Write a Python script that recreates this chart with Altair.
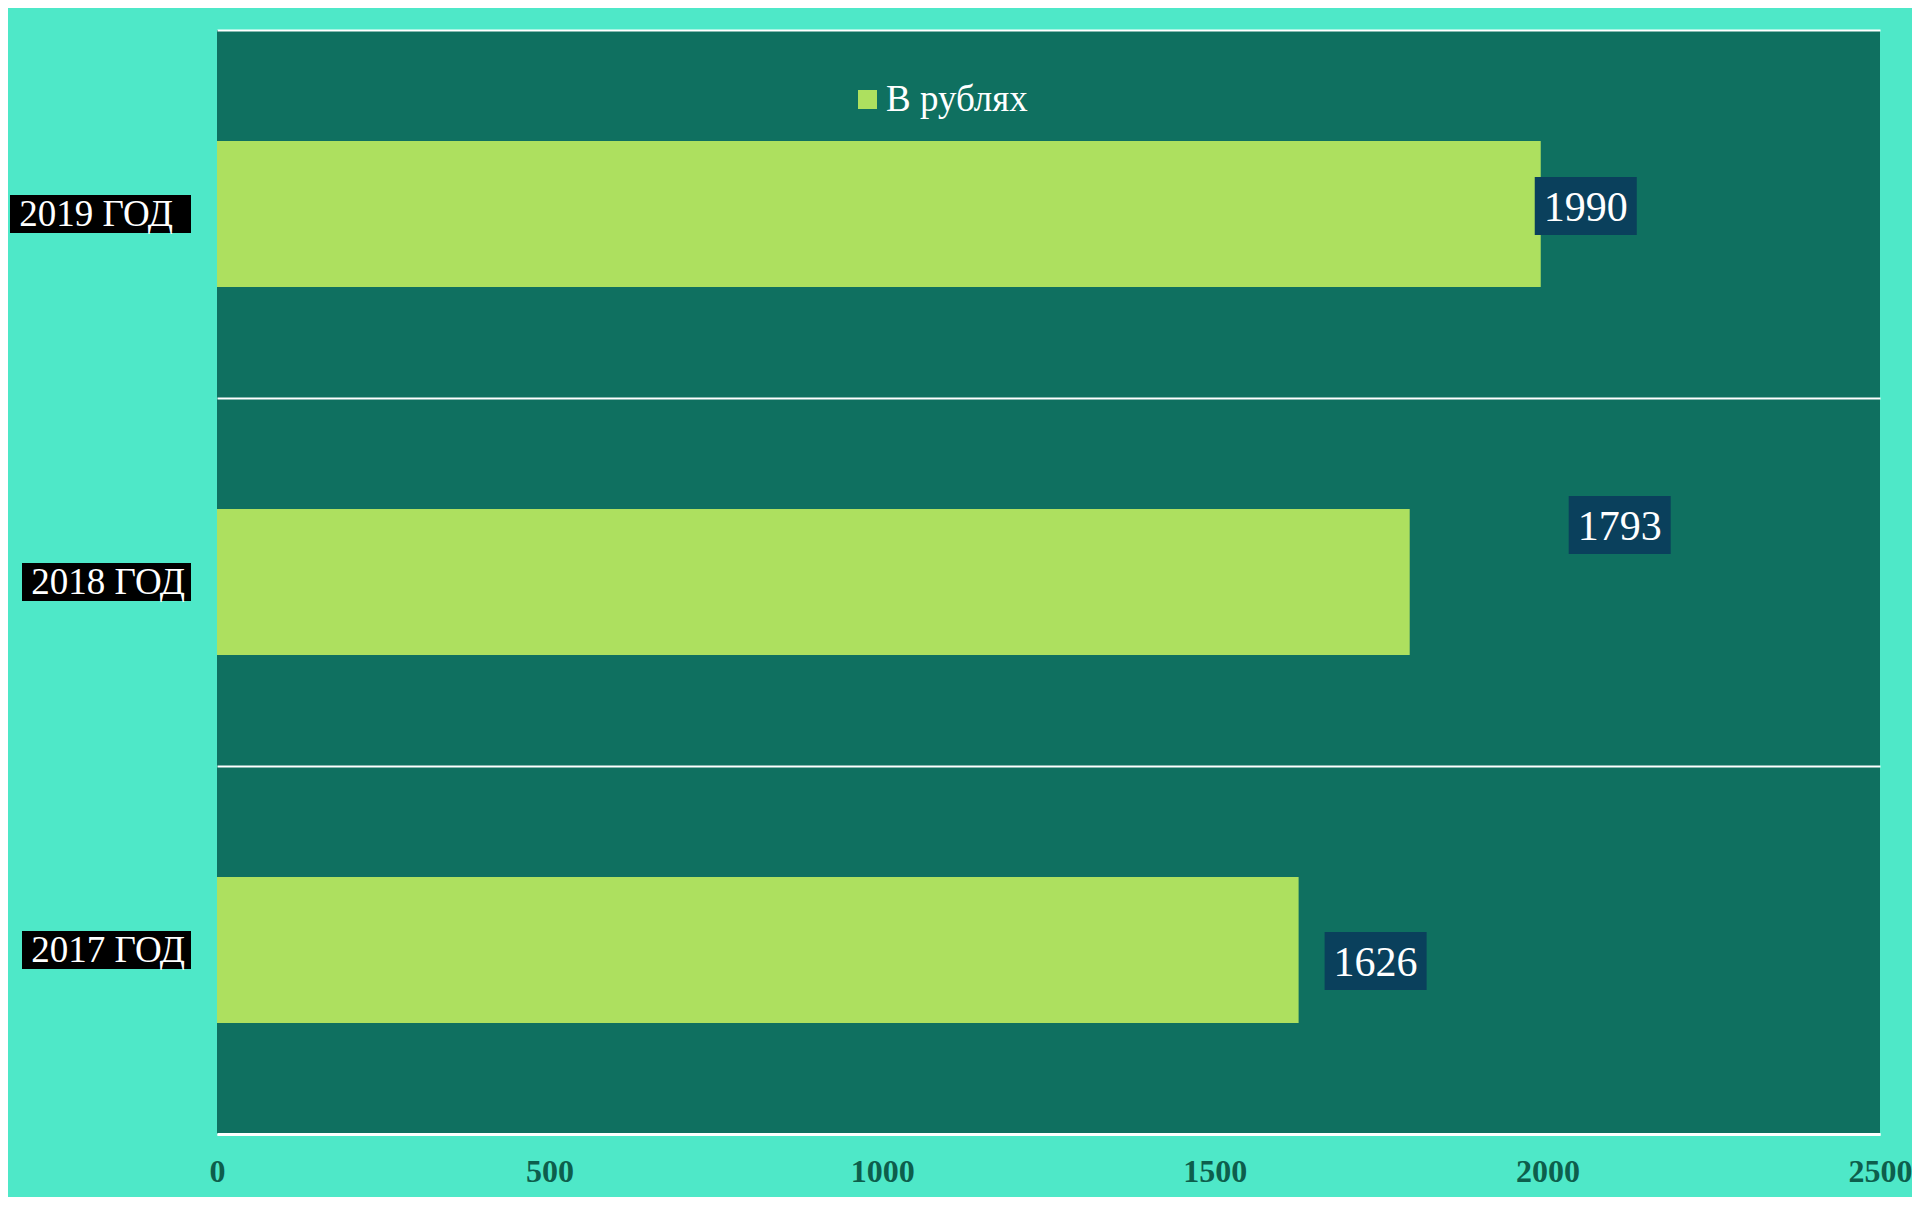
import altair as alt
import pandas as pd

years = ["2019 ГОД", "2018 ГОД", "2017 ГОД"]
values = [1990, 1793, 1626]
series = ["В рублях", "В рублях", "В рублях"]
x_ticks = [0, 500, 1000, 1500, 2000, 2500]

df = pd.DataFrame({"year": years, "value": values, "series": series})

# style: where each data-label box sits relative to its bar end / band centre (px)
label_offsets = {"2019 ГОД": (45, -8), "2018 ГОД": (210, -57), "2017 ГОД": (77, 11)}
# style: category-label box left edge and text right edge (px from plot origin)
cat_label_pos = {"2019 ГОД": (-207, -44), "2018 ГОД": (-195, -32), "2017 ГОД": (-195, -32)}

SERIF = "Liberation Serif"
BG = "#4EE8C8"
PLOT_BG = "#0F7060"
BAR = "#ADE05F"
BOX = "#0A405C"

y_main = alt.Y(
    "year:N", sort=years,
    scale=alt.Scale(paddingInner=0, paddingOuter=0),
    axis=alt.Axis(title=None, labels=False, ticks=False, domain=False,
                  grid=True, gridColor="white", gridWidth=2, tickBand="extent"),
)
y_plain = alt.Y("year:N", sort=years)

x_main = alt.X(
    "value:Q",
    scale=alt.Scale(domain=[0, 2500], nice=False, zero=True),
    axis=alt.Axis(title=None, values=x_ticks, format="d", grid=False, ticks=False,
                  domainColor="white", domainWidth=3,
                  labelFont=SERIF, labelFontSize=32, labelFontWeight="bold",
                  labelColor="#0D5E4C", labelPadding=22,
                  labelFlush=False, labelOverlap=False),
)

base = alt.Chart(df)

bars = base.mark_bar(size=146).encode(
    y=y_main,
    x=x_main,
    color=alt.Color(
        "series:N",
        scale=alt.Scale(range=[BAR]),
        legend=alt.Legend(
            title=None, orient="none", legendX=632, legendY=51,
            symbolType="square", symbolSize=361, symbolStrokeWidth=0,
            labelFont=SERIF, labelFontSize=37, labelColor="white",
            labelOffset=0, padding=0,
        ),
    ),
)

layers = [bars]
for yr, (left, right) in cat_label_pos.items():
    sub = base.transform_filter(alt.datum.year == yr)
    layers.append(sub.mark_bar(size=38, color="black").encode(
        y=y_plain, x=alt.value(left), x2=alt.value(-26)))
    layers.append(sub.mark_text(
        align="right", baseline="middle", font=SERIF, fontSize=37, color="white", dy=1
    ).encode(y=y_plain, x=alt.value(right), text="year:N"))

for yr, (dx, dy) in label_offsets.items():
    sub = base.transform_filter(alt.datum.year == yr)
    box = sub.mark_bar(size=58, color=BOX, xOffset=dx - 51, x2Offset=dx + 51,
                       yOffset=dy).encode(y=y_plain, x="value:Q", x2="value:Q")
    txt = sub.mark_text(align="center", baseline="middle", font=SERIF,
                        fontSize=42, color="white", dx=dx, dy=dy + 2).encode(
        y=y_plain, x="value:Q", text="value:Q")
    layers += [box, txt]

chart = alt.layer(*layers).properties(
    width=1663, height=1104,
    autosize="none",
    padding={"left": 209, "top": 22, "right": 32, "bottom": 63},
    background=BG,
).configure_view(fill=PLOT_BG, stroke=None)

chart.save("out.html", embed_options={"renderer": "svg", "actions": False})
